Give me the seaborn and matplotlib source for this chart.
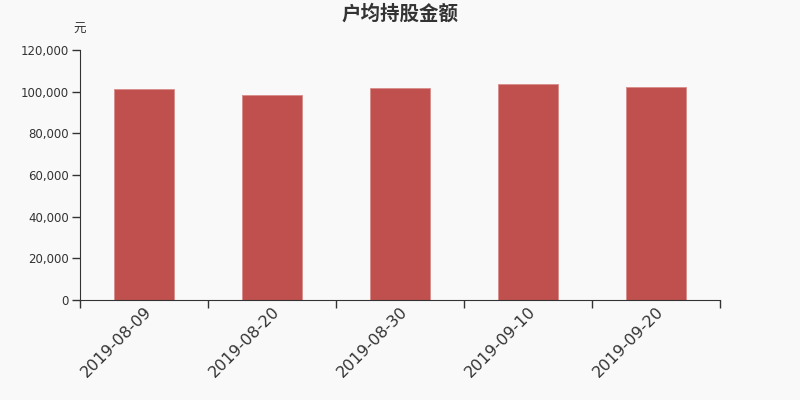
import matplotlib
matplotlib.use("Agg")
import pandas as pd
from matplotlib import pyplot as plt
from matplotlib.ticker import FuncFormatter
import seaborn as sb

# Chart data
dates = ["2019-08-09", "2019-08-20", "2019-08-30", "2019-09-10", "2019-09-20"]
amounts = [101300, 98300, 101800, 103700, 102300]
y_ticks = [0, 20000, 40000, 60000, 80000, 100000, 120000]

data = pd.DataFrame({"date": dates, "amount": amounts})

sb.set_style("ticks")
plt.rcParams["font.family"] = ["Noto Sans CJK SC", "DejaVu Sans"]

bg = "#f9f9f9"
fig = plt.figure(figsize=(8, 4), dpi=100, facecolor=bg)
ax = fig.add_axes([0.1, 0.25, 0.8, 0.625], facecolor=bg)

sb.barplot(x="date", y="amount", data=data, ax=ax, color="#c0504d",
           saturation=1, width=0.47, edgecolor="#d98b89", linewidth=0.6)

ax.set_xlim(-0.5, len(dates) - 0.5)
ax.set_ylim(0, 120000)
ax.set_yticks(y_ticks)
ax.yaxis.set_major_formatter(FuncFormatter(lambda v, p: f"{int(v):,}"))
ax.set_xlabel("")
ax.set_ylabel("")

# category labels at centres, tick marks at category boundaries
ax.set_xticks(range(len(dates)))
ax.set_xticklabels(dates, rotation=45, ha="right", rotation_mode="anchor",
                   fontsize=11.5, family="DejaVu Sans", color="#333333")
ax.tick_params(axis="x", which="major", length=0, pad=3)
ax.set_xticks([i - 0.5 for i in range(len(dates) + 1)], minor=True)
ax.tick_params(axis="x", which="minor", length=6, color="#333333", width=1)
ax.tick_params(axis="y", length=6, color="#333333", width=1, pad=2,
               labelsize=8.5, labelcolor="#333333")
for lab in ax.get_yticklabels():
    lab.set_family("DejaVu Sans")

sb.despine(ax=ax)
ax.spines["left"].set_color("#333333")
ax.spines["bottom"].set_color("#333333")

fig.text(0.5, 0.965, "户均持股金额", ha="center", va="center",
         fontsize=14, fontweight="bold", color="#333333")
fig.text(0.1, 0.927, "元", ha="center", va="center", fontsize=9, color="#333333")

fig.savefig("out.png", dpi=100, facecolor=bg)
